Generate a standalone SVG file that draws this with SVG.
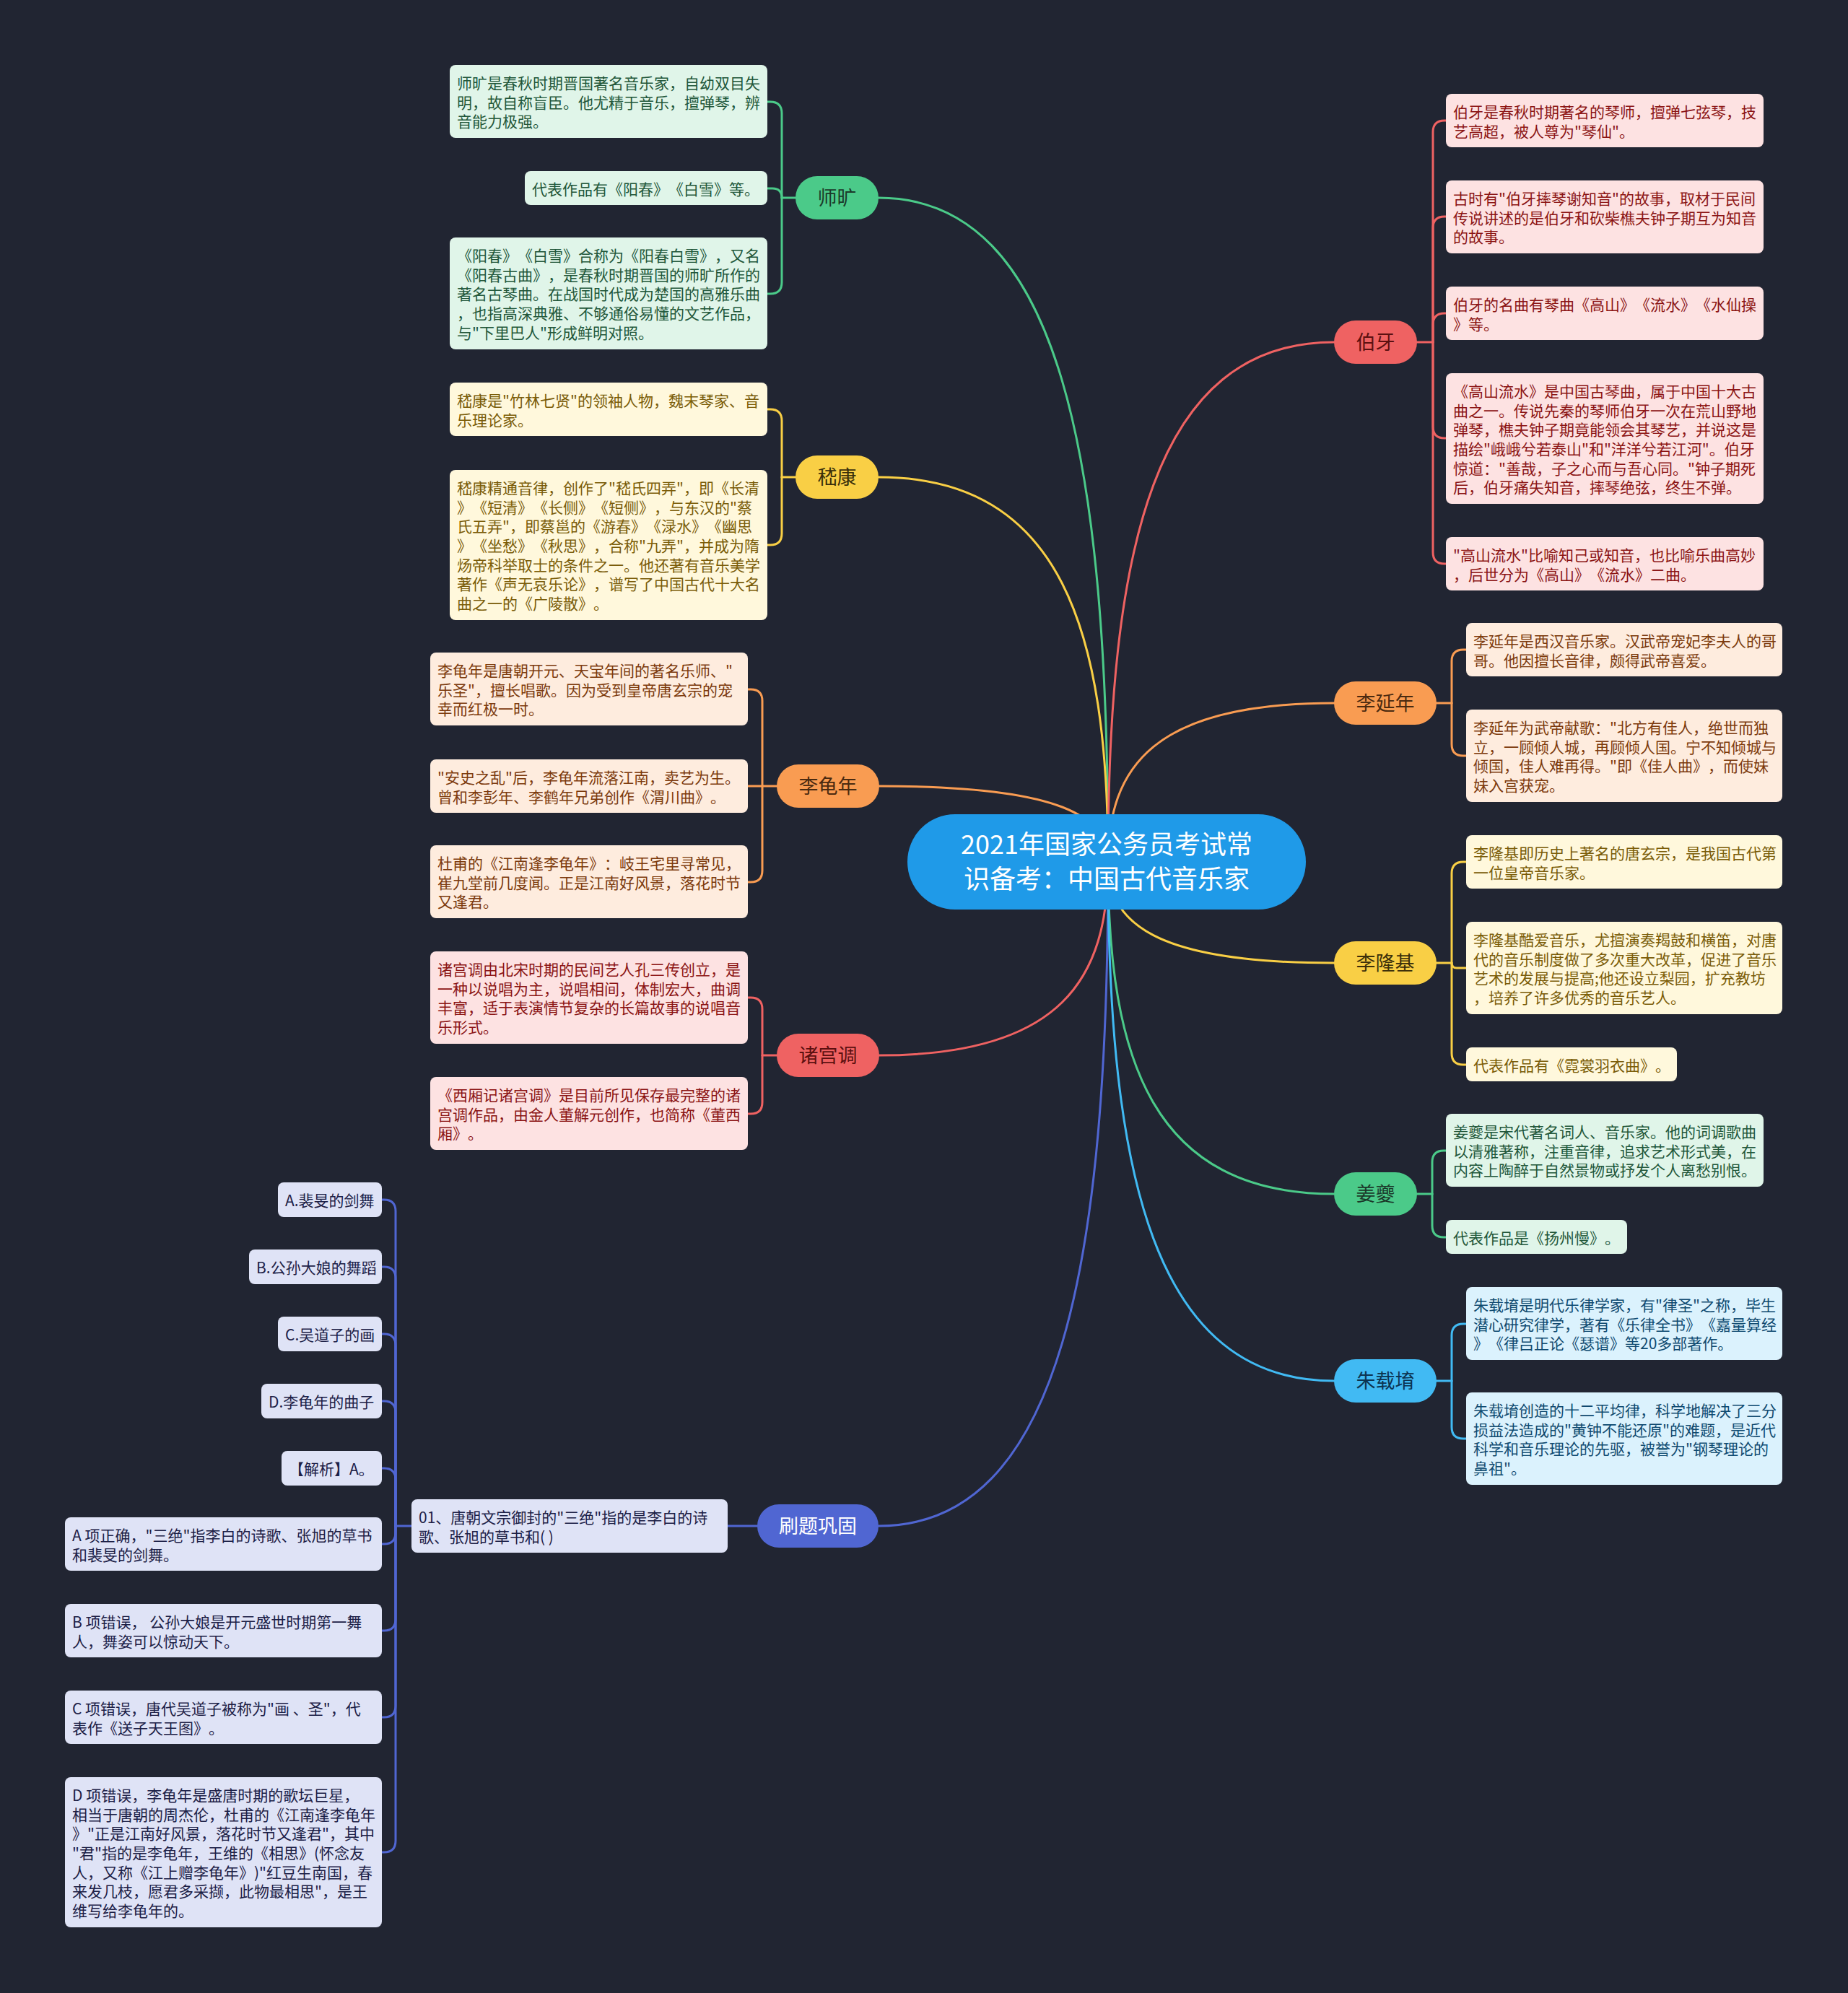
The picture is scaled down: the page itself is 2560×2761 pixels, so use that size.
<svg xmlns="http://www.w3.org/2000/svg" width="2560" height="2761" viewBox="0 0 2560 2761">
<style>
text{font-family:'Noto Sans CJK SC','Noto Sans',sans-serif;text-spacing-trim:space-all;}
.lf{font-size:21px;}
.mn{font-size:27px;text-anchor:middle;}
.ct{font-size:36px;text-anchor:middle;fill:#ffffff;}
.c path{fill:none;stroke-width:3;stroke-linecap:round;}
.cg{stroke:#4bca89;} .cy{stroke:#f9cf45;} .co{stroke:#f99c52;} .cr{stroke:#ef6262;} .cp{stroke:#5066d2;} .cb{stroke:#41baf3;}
.lg rect{fill:#e0f5e9;} .lg text{fill:#22573a;}
.ly rect{fill:#fff8dc;} .ly text{fill:#7a5c08;}
.lo rect{fill:#feecde;} .lo text{fill:#7c3a0d;}
.lr rect{fill:#fde2e2;} .lr text{fill:#8b1414;}
.lp rect{fill:#dfe3f6;} .lp text{fill:#1c2046;}
.lb rect{fill:#dbf2fd;} .lb text{fill:#0f4a70;}
.ng rect{fill:#4bca89;} .ng text{fill:#1b3a2a;}
.ny rect{fill:#f9cf45;} .ny text{fill:#3b2f0a;}
.no rect{fill:#f99c52;} .no text{fill:#4a2a10;}
.nr rect{fill:#ef6262;} .nr text{fill:#5c1010;}
.np rect{fill:#5066d2;} .np text{fill:#ffffff;}
.nb rect{fill:#41baf3;} .nb text{fill:#0c3350;}
</style>
<rect x="0" y="0" width="2560" height="2761" fill="#212532"/>

<g id="connectors" class="c">
  <!-- root to main nodes -->
  <path class="cg" d="M1217 274 C1471 274 1535 642 1535 1195"/>
  <path class="cy" d="M1217 661 C1471 661 1535 875 1535 1195"/>
  <path class="co" d="M1218 1089 C1471 1089 1535 1131 1535 1195"/>
  <path class="cr" d="M1218 1462 C1471 1462 1535 1355 1535 1195"/>
  <path class="cp" d="M1217 2114 C1471 2114 1535 1746 1535 1195"/>
  <path class="cr" d="M1848 474 C1598 474 1535 762 1535 1195"/>
  <path class="co" d="M1848 974 C1598 974 1535 1062 1535 1195"/>
  <path class="cy" d="M1848 1334 C1598 1334 1535 1278 1535 1195"/>
  <path class="cg" d="M1848 1654 C1598 1654 1535 1470 1535 1195"/>
  <path class="cb" d="M1848 1913 C1598 1913 1535 1626 1535 1195"/>

  <!-- 师旷 -->
  <path class="cg" d="M1102 274 H1083"/>
  <path class="cg" d="M1083 274 V157 Q1083 141 1067 141 H1063"/>
  <path class="cg" d="M1083 274 Q1083 261 1070 261 H1063"/>
  <path class="cg" d="M1083 274 V391 Q1083 407 1067 407 H1063"/>
  <!-- 嵇康 -->
  <path class="cy" d="M1102 661 H1083"/>
  <path class="cy" d="M1083 661 V583 Q1083 567 1067 567 H1063"/>
  <path class="cy" d="M1083 661 V739 Q1083 755 1067 755 H1063"/>
  <!-- 李龟年 -->
  <path class="co" d="M1076 1089 H1036"/>
  <path class="co" d="M1056 1089 V971 Q1056 955 1040 955 H1036"/>
  <path class="co" d="M1056 1089 V1206 Q1056 1222 1040 1222 H1036"/>
  <!-- 诸宫调 -->
  <path class="cr" d="M1076 1462 H1056"/>
  <path class="cr" d="M1056 1462 V1398 Q1056 1382 1040 1382 H1036"/>
  <path class="cr" d="M1056 1462 V1527 Q1056 1543 1040 1543 H1036"/>
  <!-- 刷题巩固 -->
  <path class="cp" d="M1049 2114 H1008"/>
  <path class="cp" d="M570 2114 H548"/>
  <path class="cp" d="M548 2114 V1678 Q548 1662 532 1662 H529"/>
  <path class="cp" d="M548 2114 V1771 Q548 1755 532 1755 H529"/>
  <path class="cp" d="M548 2114 V1864 Q548 1848 532 1848 H529"/>
  <path class="cp" d="M548 2114 V1957 Q548 1941 532 1941 H529"/>
  <path class="cp" d="M548 2114 V2050 Q548 2034 532 2034 H529"/>
  <path class="cp" d="M548 2114 V2123 Q548 2139 532 2139 H529"/>
  <path class="cp" d="M548 2114 V2243 Q548 2259 532 2259 H529"/>
  <path class="cp" d="M548 2114 V2363 Q548 2379 532 2379 H529"/>
  <path class="cp" d="M548 2114 V2550 Q548 2566 532 2566 H529"/>
  <!-- 伯牙 -->
  <path class="cr" d="M1963 474 H1985"/>
  <path class="cr" d="M1985 474 V183 Q1985 167 2001 167 H2003"/>
  <path class="cr" d="M1985 474 V316 Q1985 300 2001 300 H2003"/>
  <path class="cr" d="M1985 474 V450 Q1985 434 2001 434 H2003"/>
  <path class="cr" d="M1985 474 V591 Q1985 607 2001 607 H2003"/>
  <path class="cr" d="M1985 474 V765 Q1985 781 2001 781 H2003"/>
  <!-- 李延年 -->
  <path class="co" d="M1990 974 H2011"/>
  <path class="co" d="M2011 974 V916 Q2011 900 2027 900 H2031"/>
  <path class="co" d="M2011 974 V1031 Q2011 1047 2027 1047 H2031"/>
  <!-- 李隆基 -->
  <path class="cy" d="M1990 1334 H2011"/>
  <path class="cy" d="M2011 1334 V1210 Q2011 1194 2027 1194 H2031"/>
  <path class="cy" d="M2011 1334 Q2011 1341 2018 1341 H2031"/>
  <path class="cy" d="M2011 1334 V1459 Q2011 1475 2027 1475 H2031"/>
  <!-- 姜夔 -->
  <path class="cg" d="M1963 1654 H1984"/>
  <path class="cg" d="M1984 1654 V1610 Q1984 1594 2000 1594 H2003"/>
  <path class="cg" d="M1984 1654 V1698 Q1984 1714 2000 1714 H2003"/>
  <!-- 朱载堉 -->
  <path class="cb" d="M1990 1913 H2011"/>
  <path class="cb" d="M2011 1913 V1850 Q2011 1834 2027 1834 H2031"/>
  <path class="cb" d="M2011 1913 V1977 Q2011 1993 2027 1993 H2031"/>
</g>

<g id="root">
  <rect x="1257" y="1128" width="552" height="132" rx="66" fill="#1f9ae8"/>
  <text class="ct" x="1533" y="1183">2021年国家公务员考试常</text>
  <text class="ct" x="1533" y="1231">识备考：中国古代音乐家</text>
</g>

<!-- main nodes -->
<g id="n-shikuang" class="ng"><rect x="1102" y="244" width="115" height="60" rx="30"/><text class="mn" x="1159.5" y="284">师旷</text></g>
<g id="n-jikang" class="ny"><rect x="1102" y="631" width="115" height="60" rx="30"/><text class="mn" x="1159.5" y="671">嵇康</text></g>
<g id="n-liguinian" class="no"><rect x="1076" y="1059" width="142" height="60" rx="30"/><text class="mn" x="1147" y="1099">李龟年</text></g>
<g id="n-zhugongdiao" class="nr"><rect x="1076" y="1432" width="142" height="60" rx="30"/><text class="mn" x="1147" y="1472">诸宫调</text></g>
<g id="n-shuati" class="np"><rect x="1049" y="2084" width="168" height="60" rx="30"/><text class="mn" x="1133" y="2124">刷题巩固</text></g>
<g id="n-boya" class="nr"><rect x="1848" y="444" width="115" height="60" rx="30"/><text class="mn" x="1905.5" y="484">伯牙</text></g>
<g id="n-liyannian" class="no"><rect x="1848" y="944" width="142" height="60" rx="30"/><text class="mn" x="1919" y="984">李延年</text></g>
<g id="n-lilongji" class="ny"><rect x="1848" y="1304" width="142" height="60" rx="30"/><text class="mn" x="1919" y="1344">李隆基</text></g>
<g id="n-jiangkui" class="ng"><rect x="1848" y="1624" width="115" height="60" rx="30"/><text class="mn" x="1905.5" y="1664">姜夔</text></g>
<g id="n-zhuzaiyu" class="nb"><rect x="1848" y="1883" width="142" height="60" rx="30"/><text class="mn" x="1919" y="1923">朱载堉</text></g>

<!-- 师旷 leaves -->
<g id="sk-1" class="lg"><rect x="623" y="90" width="440" height="101" rx="8"/>
<text class="lf" x="633" y="123">师旷是春秋时期晋国著名音乐家，自幼双目失</text>
<text class="lf" x="633" y="150">明，故自称盲臣。他尤精于音乐，擅弹琴，辨</text>
<text class="lf" x="633" y="176">音能力极强。</text></g>
<g id="sk-2" class="lg"><rect x="727" y="237" width="336" height="47" rx="8"/>
<text class="lf" x="737" y="270">代表作品有《阳春》《白雪》等。</text></g>
<g id="sk-3" class="lg"><rect x="623" y="329" width="440" height="155" rx="8"/>
<text class="lf" x="633" y="362">《阳春》《白雪》合称为《阳春白雪》，又名</text>
<text class="lf" x="633" y="389">《阳春古曲》，是春秋时期晋国的师旷所作的</text>
<text class="lf" x="633" y="415">著名古琴曲。在战国时代成为楚国的高雅乐曲</text>
<text class="lf" x="633" y="442">，也指高深典雅、不够通俗易懂的文艺作品，</text>
<text class="lf" x="633" y="469">与"下里巴人"形成鲜明对照。</text></g>

<!-- 嵇康 leaves -->
<g id="jk-1" class="ly"><rect x="623" y="530" width="440" height="74" rx="8"/>
<text class="lf" x="633" y="563">嵇康是"竹林七贤"的领袖人物，魏末琴家、音</text>
<text class="lf" x="633" y="590">乐理论家。</text></g>
<g id="jk-2" class="ly"><rect x="623" y="651" width="440" height="208" rx="8"/>
<text class="lf" x="633" y="684">嵇康精通音律，创作了"嵇氏四弄"，即《长清</text>
<text class="lf" x="633" y="711">》《短清》《长侧》《短侧》，与东汉的"蔡</text>
<text class="lf" x="633" y="737">氏五弄"，即蔡邕的《游春》《渌水》《幽思</text>
<text class="lf" x="633" y="764">》《坐愁》《秋思》，合称"九弄"，并成为隋</text>
<text class="lf" x="633" y="791">炀帝科举取士的条件之一。他还著有音乐美学</text>
<text class="lf" x="633" y="817">著作《声无哀乐论》，谱写了中国古代十大名</text>
<text class="lf" x="633" y="844">曲之一的《广陵散》。</text></g>

<!-- 李龟年 leaves -->
<g id="lgn-1" class="lo"><rect x="596" y="904" width="440" height="101" rx="8"/>
<text class="lf" x="606" y="937">李龟年是唐朝开元、天宝年间的著名乐师、"</text>
<text class="lf" x="606" y="964">乐圣"，擅长唱歌。因为受到皇帝唐玄宗的宠</text>
<text class="lf" x="606" y="990">幸而红极一时。</text></g>
<g id="lgn-2" class="lo"><rect x="596" y="1052" width="440" height="74" rx="8"/>
<text class="lf" x="606" y="1085">"安史之乱"后，李龟年流落江南，卖艺为生。</text>
<text class="lf" x="606" y="1112">曾和李彭年、李鹤年兄弟创作《渭川曲》。</text></g>
<g id="lgn-3" class="lo"><rect x="596" y="1171" width="440" height="101" rx="8"/>
<text class="lf" x="606" y="1204">杜甫的《江南逢李龟年》：岐王宅里寻常见，</text>
<text class="lf" x="606" y="1231">崔九堂前几度闻。正是江南好风景，落花时节</text>
<text class="lf" x="606" y="1257">又逢君。</text></g>

<!-- 诸宫调 leaves -->
<g id="zgd-1" class="lr"><rect x="596" y="1318" width="440" height="128" rx="8"/>
<text class="lf" x="606" y="1351">诸宫调由北宋时期的民间艺人孔三传创立，是</text>
<text class="lf" x="606" y="1378">一种以说唱为主，说唱相间，体制宏大，曲调</text>
<text class="lf" x="606" y="1404">丰富，适于表演情节复杂的长篇故事的说唱音</text>
<text class="lf" x="606" y="1431">乐形式。</text></g>
<g id="zgd-2" class="lr"><rect x="596" y="1492" width="440" height="101" rx="8"/>
<text class="lf" x="606" y="1525">《西厢记诸宫调》是目前所见保存最完整的诸</text>
<text class="lf" x="606" y="1552">宫调作品，由金人董解元创作，也简称《董西</text>
<text class="lf" x="606" y="1578">厢》。</text></g>

<!-- 刷题巩固 leaves -->
<g id="q-1" class="lp"><rect x="570" y="2077" width="438" height="74" rx="8"/>
<text class="lf" x="580" y="2110">01、唐朝文宗御封的"三绝"指的是李白的诗</text>
<text class="lf" x="580" y="2137">歌、张旭的草书和( )</text></g>
<g id="q-a" class="lp"><rect x="385" y="1638" width="144" height="48" rx="8"/>
<text class="lf" x="395" y="1671">A.裴旻的剑舞</text></g>
<g id="q-b" class="lp"><rect x="345" y="1731" width="184" height="48" rx="8"/>
<text class="lf" x="355" y="1764">B.公孙大娘的舞蹈</text></g>
<g id="q-c" class="lp"><rect x="385" y="1824" width="144" height="48" rx="8"/>
<text class="lf" x="395" y="1857">C.吴道子的画</text></g>
<g id="q-d" class="lp"><rect x="362" y="1917" width="167" height="48" rx="8"/>
<text class="lf" x="372" y="1950">D.李龟年的曲子</text></g>
<g id="q-jx" class="lp"><rect x="390" y="2010" width="139" height="48" rx="8"/>
<text class="lf" x="400" y="2043">【解析】A。</text></g>
<g id="q-ea" class="lp"><rect x="90" y="2102" width="439" height="74" rx="8"/>
<text class="lf" x="100" y="2135">A 项正确，"三绝"指李白的诗歌、张旭的草书</text>
<text class="lf" x="100" y="2162">和裴旻的剑舞。</text></g>
<g id="q-eb" class="lp"><rect x="90" y="2222" width="439" height="74" rx="8"/>
<text class="lf" x="100" y="2255">B 项错误， 公孙大娘是开元盛世时期第一舞</text>
<text class="lf" x="100" y="2282">人，舞姿可以惊动天下。</text></g>
<g id="q-ec" class="lp"><rect x="90" y="2342" width="439" height="74" rx="8"/>
<text class="lf" x="100" y="2375">C 项错误，唐代吴道子被称为"画 、圣"，代</text>
<text class="lf" x="100" y="2402">表作《送子天王图》。</text></g>
<g id="q-ed" class="lp"><rect x="90" y="2462" width="439" height="208" rx="8"/>
<text class="lf" x="100" y="2495">D 项错误，李龟年是盛唐时期的歌坛巨星，</text>
<text class="lf" x="100" y="2522">相当于唐朝的周杰伦，杜甫的《江南逢李龟年</text>
<text class="lf" x="100" y="2548">》"正是江南好风景，落花时节又逢君"，其中</text>
<text class="lf" x="100" y="2575">"君"指的是李龟年，王维的《相思》(怀念友</text>
<text class="lf" x="100" y="2602">人，又称《江上赠李龟年》)"红豆生南国，春</text>
<text class="lf" x="100" y="2628">来发几枝，愿君多采撷，此物最相思"，是王</text>
<text class="lf" x="100" y="2655">维写给李龟年的。</text></g>

<!-- 伯牙 leaves -->
<g id="by-1" class="lr"><rect x="2003" y="130" width="440" height="74" rx="8"/>
<text class="lf" x="2013" y="163">伯牙是春秋时期著名的琴师，擅弹七弦琴，技</text>
<text class="lf" x="2013" y="190">艺高超，被人尊为"琴仙"。</text></g>
<g id="by-2" class="lr"><rect x="2003" y="250" width="440" height="101" rx="8"/>
<text class="lf" x="2013" y="283">古时有"伯牙摔琴谢知音"的故事，取材于民间</text>
<text class="lf" x="2013" y="310">传说讲述的是伯牙和砍柴樵夫钟子期互为知音</text>
<text class="lf" x="2013" y="336">的故事。</text></g>
<g id="by-3" class="lr"><rect x="2003" y="397" width="440" height="74" rx="8"/>
<text class="lf" x="2013" y="430">伯牙的名曲有琴曲《高山》《流水》《水仙操</text>
<text class="lf" x="2013" y="457">》等。</text></g>
<g id="by-4" class="lr"><rect x="2003" y="517" width="440" height="181" rx="8"/>
<text class="lf" x="2013" y="550">《高山流水》是中国古琴曲，属于中国十大古</text>
<text class="lf" x="2013" y="577">曲之一。传说先秦的琴师伯牙一次在荒山野地</text>
<text class="lf" x="2013" y="603">弹琴，樵夫钟子期竟能领会其琴艺，并说这是</text>
<text class="lf" x="2013" y="630">描绘"峨峨兮若泰山"和"洋洋兮若江河"。伯牙</text>
<text class="lf" x="2013" y="657">惊道："善哉，子之心而与吾心同。"钟子期死</text>
<text class="lf" x="2013" y="683">后，伯牙痛失知音，摔琴绝弦，终生不弹。</text></g>
<g id="by-5" class="lr"><rect x="2003" y="744" width="440" height="74" rx="8"/>
<text class="lf" x="2013" y="777">"高山流水"比喻知己或知音，也比喻乐曲高妙</text>
<text class="lf" x="2013" y="804">，后世分为《高山》《流水》二曲。</text></g>

<!-- 李延年 leaves -->
<g id="lyn-1" class="lo"><rect x="2031" y="863" width="438" height="74" rx="8"/>
<text class="lf" x="2041" y="896">李延年是西汉音乐家。汉武帝宠妃李夫人的哥</text>
<text class="lf" x="2041" y="923">哥。他因擅长音律，颇得武帝喜爱。</text></g>
<g id="lyn-2" class="lo"><rect x="2031" y="983" width="438" height="128" rx="8"/>
<text class="lf" x="2041" y="1016">李延年为武帝献歌："北方有佳人，绝世而独</text>
<text class="lf" x="2041" y="1043">立，一顾倾人城，再顾倾人国。宁不知倾城与</text>
<text class="lf" x="2041" y="1069">倾国，佳人难再得。"即《佳人曲》，而使妹</text>
<text class="lf" x="2041" y="1096">妹入宫获宠。</text></g>

<!-- 李隆基 leaves -->
<g id="llj-1" class="ly"><rect x="2031" y="1157" width="438" height="74" rx="8"/>
<text class="lf" x="2041" y="1190">李隆基即历史上著名的唐玄宗，是我国古代第</text>
<text class="lf" x="2041" y="1217">一位皇帝音乐家。</text></g>
<g id="llj-2" class="ly"><rect x="2031" y="1277" width="438" height="128" rx="8"/>
<text class="lf" x="2041" y="1310">李隆基酷爱音乐，尤擅演奏羯鼓和横笛，对唐</text>
<text class="lf" x="2041" y="1337">代的音乐制度做了多次重大改革，促进了音乐</text>
<text class="lf" x="2041" y="1363">艺术的发展与提高;他还设立梨园，扩充教坊</text>
<text class="lf" x="2041" y="1390">，培养了许多优秀的音乐艺人。</text></g>
<g id="llj-3" class="ly"><rect x="2031" y="1451" width="292" height="47" rx="8"/>
<text class="lf" x="2041" y="1484">代表作品有《霓裳羽衣曲》。</text></g>

<!-- 姜夔 leaves -->
<g id="jkui-1" class="lg"><rect x="2003" y="1543" width="440" height="101" rx="8"/>
<text class="lf" x="2013" y="1576">姜夔是宋代著名词人、音乐家。他的词调歌曲</text>
<text class="lf" x="2013" y="1603">以清雅著称，注重音律，追求艺术形式美，在</text>
<text class="lf" x="2013" y="1629">内容上陶醉于自然景物或抒发个人离愁别恨。</text></g>
<g id="jkui-2" class="lg"><rect x="2003" y="1690" width="251" height="47" rx="8"/>
<text class="lf" x="2013" y="1723">代表作品是《扬州慢》。</text></g>

<!-- 朱载堉 leaves -->
<g id="zzy-1" class="lb"><rect x="2031" y="1783" width="438" height="101" rx="8"/>
<text class="lf" x="2041" y="1816">朱载堉是明代乐律学家，有"律圣"之称，毕生</text>
<text class="lf" x="2041" y="1843">潜心研究律学，著有《乐律全书》《嘉量算经</text>
<text class="lf" x="2041" y="1869">》《律吕正论《瑟谱》等20多部著作。</text></g>
<g id="zzy-2" class="lb"><rect x="2031" y="1929" width="438" height="128" rx="8"/>
<text class="lf" x="2041" y="1962">朱载堉创造的十二平均律，科学地解决了三分</text>
<text class="lf" x="2041" y="1989">损益法造成的"黄钟不能还原"的难题，是近代</text>
<text class="lf" x="2041" y="2015">科学和音乐理论的先驱，被誉为"钢琴理论的</text>
<text class="lf" x="2041" y="2042">鼻祖"。</text></g>
</svg>
